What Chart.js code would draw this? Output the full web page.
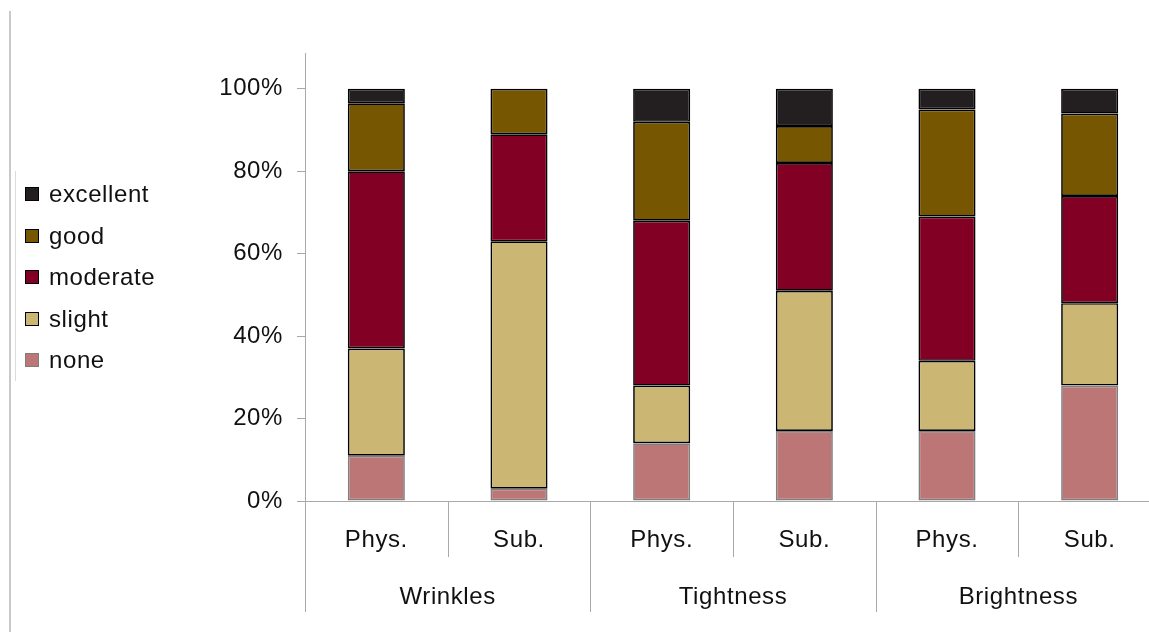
<!DOCTYPE html>
<html>
<head>
<meta charset="utf-8">
<script src="https://cdn.jsdelivr.net/npm/chart.js@4"></script>
<style>
  body { margin: 0; overflow: hidden; background: #fff; font-family: 'Liberation Sans', Arial, sans-serif; }
  #frame { position: absolute; left: 9px; top: 11px; bottom: 0; width: 2px; background: #c9c9c9; }
  #chart-wrap { position: absolute; left: 0; top: 0; width: 1170px; height: 632px; }
  #legend { position: absolute; left: 15px; top: 171px; height: 210px; border-left: 1.5px solid #dcdcdc; }
  .leg-item { position: absolute; left: 9px; height: 30px; white-space: nowrap; font-size: 24px; letter-spacing: 0.6px; color: #111; }
  .leg-box { position: absolute; left: 0; top: 7px; width: 12px; height: 12px; border: 1.8px solid #000; }
  .leg-text { position: absolute; left: 24px; top: 0; }
</style>
</head>
<body>
<div id="frame"></div>
<div id="chart-wrap"><canvas id="chart"></canvas></div>
<div id="legend"></div>
<script>
const categories = ['Phys.', 'Sub.', 'Phys.', 'Sub.', 'Phys.', 'Sub.'];
const groupLabels = ['Wrinkles', 'Tightness', 'Brightness'];
const yTicks = [0, 20, 40, 60, 80, 100];

const noneVals      = [11, 3, 14, 17, 17, 28];
const slightVals    = [26, 60, 14, 34, 17, 20];
const moderateVals  = [43, 26, 40, 31, 35, 26];
const goodVals      = [16.5, 11, 24, 9, 26, 20];
const excellentVals = [3.5, 0, 8, 9, 5, 6];

const FONT = "'Liberation Sans', Arial, sans-serif";
const AXIS_GRAY = '#a9a9a9';
const SPACING = '0.6px';

function ds(label, data, color, border) {
    return {
        label, data,
        backgroundColor: color,
        borderColor: border,
        borderWidth: 1.7,
        borderSkipped: false,
        barPercentage: 0.4,
        categoryPercentage: 1
    };
}

// separators below the category axis + group names
const groupAxis = {
    id: 'groupAxis',
    afterDraw(chart) {
        const x = chart.scales.x;
        const ctx = chart.ctx;
        const n = categories.length;
        const per = n / groupLabels.length;
        const edge = i => {
            if (i === 0) return x.left;
            if (i === n) return x.right;
            return (x.getPixelForTick(i - 1) + x.getPixelForTick(i)) / 2;
        };
        const y0 = x.top;
        ctx.save();
        ctx.strokeStyle = AXIS_GRAY;
        ctx.lineWidth = 1;
        for (let i = 0; i <= n; i++) {
            const px = Math.round(edge(i)) + 0.5;
            const len = (i % per === 0) ? 111 : 56;
            ctx.beginPath();
            ctx.moveTo(px, y0);
            ctx.lineTo(px, y0 + len);
            ctx.stroke();
        }
        ctx.fillStyle = '#111';
        ctx.font = '24px ' + FONT;
        ctx.letterSpacing = SPACING;
        ctx.textAlign = 'center';
        ctx.textBaseline = 'alphabetic';
        groupLabels.forEach((g, gi) => {
            const cx = (edge(gi * per) + edge((gi + 1) * per)) / 2;
            ctx.fillText(g, cx, y0 + 102.5);
        });
        ctx.restore();
    }
};

const spacing = {
    id: 'spacing',
    beforeInit(chart) { chart.ctx.letterSpacing = SPACING; },
    beforeDraw(chart) { chart.ctx.letterSpacing = SPACING; }
};

const chart = new Chart(document.getElementById('chart'), {
    type: 'bar',
    data: {
        labels: categories,
        datasets: [
            ds('none', noneVals, '#bd7676', '#7f7f7f'),
            ds('slight', slightVals, '#cbb674', '#000'),
            ds('moderate', moderateVals, '#820024', '#000'),
            ds('good', goodVals, '#765600', '#000'),
            ds('excellent', excellentVals, '#231f20', '#000')
        ]
    },
    options: {
        responsive: true,
        maintainAspectRatio: false,
        animation: false,
        layout: { padding: { left: 0, right: 9, top: 53, bottom: 0 } },
        plugins: { legend: { display: false }, tooltip: { enabled: false } },
        scales: {
            x: {
                stacked: true,
                grid: { display: true, drawOnChartArea: false, drawTicks: false },
                border: { color: AXIS_GRAY, width: 1 },
                ticks: { color: '#111', font: { size: 24, family: FONT }, padding: 25, maxRotation: 0, autoSkip: false },
                afterFit(s) { s.height = 131; }
            },
            y: {
                stacked: true,
                min: 0,
                max: 108.7,
                afterBuildTicks(s) { s.ticks = yTicks.map(v => ({ value: v })); },
                grid: { drawOnChartArea: false, drawTicks: true, tickLength: 8, color: AXIS_GRAY },
                border: { color: AXIS_GRAY, width: 1 },
                ticks: { color: '#111', font: { size: 24, family: FONT }, padding: 14, callback: v => v + '%' },
                afterFit(s) { s.width = 305; }
            }
        }
    },
    plugins: [spacing, groupAxis]
});

// legend, top-down in reverse stacking order
const legend = document.getElementById('legend');
const itemTops = [9, 51, 92, 134, 175];
chart.data.datasets.slice().reverse().forEach((d, i) => {
    const item = document.createElement('div');
    item.className = 'leg-item';
    item.style.top = itemTops[i] + 'px';
    item.innerHTML = `<span class="leg-box" style="background:${d.backgroundColor};border-color:${d.borderColor}"></span><span class="leg-text">${d.label}</span>`;
    legend.appendChild(item);
});
</script>
</body>
</html>
